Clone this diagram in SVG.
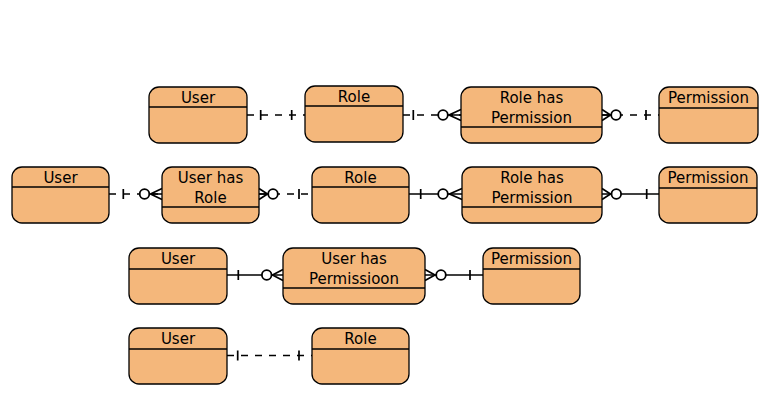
<svg xmlns="http://www.w3.org/2000/svg" width="771" height="417" viewBox="0 0 771 417">
<style>
.box{fill:#F4B77B;stroke:#000;stroke-width:1.3}
.hdr{stroke:#000;stroke-width:1.3}
.t{font-family:"DejaVu Sans",sans-serif;font-size:15px;text-anchor:middle;fill:#000}
.ln{stroke:#000;stroke-width:1.4;fill:none}
.dash{stroke-dasharray:7 7}
.mk{stroke:#000;stroke-width:1.7;fill:none}
.circ{fill:#fff;stroke:#000;stroke-width:1.8}
</style>
<rect width="771" height="417" fill="#fff"/>
<g id="connectors">
  <g id="c1">
    <line class="ln dash" x1="247" y1="115" x2="305" y2="115"/>
    <path class="mk" d="M260.7,110V120M291.7,110V120"/>
  </g>
  <g id="c2">
    <line class="ln dash" x1="403" y1="115" x2="461" y2="115"/>
    <path class="mk" d="M413.3,110V120M461,109.5L449,115L461,120.5M449,115H461"/>
    <circle class="circ" cx="443" cy="115" r="4.8"/>
  </g>
  <g id="c3">
    <line class="ln dash" x1="602" y1="115" x2="659" y2="115"/>
    <path class="mk" d="M602,109.5L610.5,115L602,120.5M602,115H610.5M646,110V120"/>
    <circle class="circ" cx="616" cy="115" r="4.8"/>
  </g>
  <g id="c4">
    <line class="ln dash" x1="109" y1="194" x2="162" y2="194"/>
    <path class="mk" d="M123.3,189V199M162,188.5L150.5,194L162,199.5M150.5,194H162"/>
    <circle class="circ" cx="144.5" cy="194" r="4.8"/>
  </g>
  <g id="c5">
    <line class="ln dash" x1="259" y1="194" x2="312" y2="194"/>
    <path class="mk" d="M259,188.5L267.5,194L259,199.5M259,194H267.5M299,189V199"/>
    <circle class="circ" cx="273" cy="194" r="4.8"/>
  </g>
  <g id="c6">
    <line class="ln" x1="409" y1="194" x2="462" y2="194"/>
    <path class="mk" d="M420.7,189V199M462,188.5L449.5,194L462,199.5"/>
    <circle class="circ" cx="443" cy="194" r="4.8"/>
  </g>
  <g id="c7">
    <line class="ln" x1="602" y1="194" x2="659" y2="194"/>
    <path class="mk" d="M602,188.5L610.5,194L602,199.5M646.7,189V199"/>
    <circle class="circ" cx="616.3" cy="194" r="4.8"/>
  </g>
  <g id="c8">
    <line class="ln" x1="227" y1="275" x2="283" y2="275"/>
    <path class="mk" d="M238.3,270V280M283,269.5L272.5,275L283,280.5"/>
    <circle class="circ" cx="266.7" cy="275" r="4.8"/>
  </g>
  <g id="c9">
    <line class="ln" x1="425" y1="275" x2="483" y2="275"/>
    <path class="mk" d="M425,269.5L435,275L425,280.5M470,270V280"/>
    <circle class="circ" cx="441" cy="275" r="4.8"/>
  </g>
  <g id="c10">
    <line class="ln dash" x1="227" y1="355.5" x2="312" y2="355.5"/>
    <path class="mk" d="M237.7,350.5V360.5M299,350.5V360.5"/>
  </g>
</g>
<g id="user1">
  <rect class="box" x="149" y="87" width="98" height="56" rx="10"/>
  <line class="hdr" x1="149" y1="107" x2="247" y2="107"/>
  <text class="t" x="198" y="103">User</text>
</g>
<g id="role1">
  <rect class="box" x="305" y="86" width="98" height="56" rx="10"/>
  <line class="hdr" x1="305" y1="106" x2="403" y2="106"/>
  <text class="t" x="354" y="102">Role</text>
</g>
<g id="rolehaspermission1">
  <rect class="box" x="461" y="87" width="141" height="56" rx="10"/>
  <line class="hdr" x1="461" y1="127" x2="602" y2="127"/>
  <text class="t" x="531.5" y="103">Role has</text>
  <text class="t" x="531.5" y="123">Permission</text>
</g>
<g id="permission1">
  <rect class="box" x="659" y="87" width="99" height="56" rx="10"/>
  <line class="hdr" x1="659" y1="108" x2="758" y2="108"/>
  <text class="t" x="708.5" y="103">Permission</text>
</g>
<g id="user2">
  <rect class="box" x="12" y="167" width="97" height="56" rx="10"/>
  <line class="hdr" x1="12" y1="187" x2="109" y2="187"/>
  <text class="t" x="60.5" y="183">User</text>
</g>
<g id="userhasrole2">
  <rect class="box" x="162" y="167" width="97" height="56" rx="10"/>
  <line class="hdr" x1="162" y1="207" x2="259" y2="207"/>
  <text class="t" x="210.5" y="183">User has</text>
  <text class="t" x="210.5" y="203">Role</text>
</g>
<g id="role2">
  <rect class="box" x="312" y="167" width="97" height="56" rx="10"/>
  <line class="hdr" x1="312" y1="187" x2="409" y2="187"/>
  <text class="t" x="360.5" y="183">Role</text>
</g>
<g id="rolehaspermission2">
  <rect class="box" x="462" y="167" width="140" height="56" rx="10"/>
  <line class="hdr" x1="462" y1="207" x2="602" y2="207"/>
  <text class="t" x="532" y="183">Role has</text>
  <text class="t" x="532" y="203">Permission</text>
</g>
<g id="permission2">
  <rect class="box" x="659" y="167" width="98" height="56" rx="10"/>
  <line class="hdr" x1="659" y1="188" x2="757" y2="188"/>
  <text class="t" x="708" y="183">Permission</text>
</g>
<g id="user3">
  <rect class="box" x="129" y="248" width="98" height="56" rx="10"/>
  <line class="hdr" x1="129" y1="269" x2="227" y2="269"/>
  <text class="t" x="178" y="264">User</text>
</g>
<g id="userhaspermission3">
  <rect class="box" x="283" y="248" width="142" height="56" rx="10"/>
  <line class="hdr" x1="283" y1="288" x2="425" y2="288"/>
  <text class="t" x="354" y="264">User has</text>
  <text class="t" x="354" y="284">Permissioon</text>
</g>
<g id="permission3">
  <rect class="box" x="483" y="248" width="97" height="56" rx="10"/>
  <line class="hdr" x1="483" y1="269" x2="580" y2="269"/>
  <text class="t" x="531.5" y="264">Permission</text>
</g>
<g id="user4">
  <rect class="box" x="129" y="328" width="98" height="56" rx="10"/>
  <line class="hdr" x1="129" y1="349" x2="227" y2="349"/>
  <text class="t" x="178" y="344">User</text>
</g>
<g id="role4">
  <rect class="box" x="312" y="328" width="97" height="56" rx="10"/>
  <line class="hdr" x1="312" y1="349" x2="409" y2="349"/>
  <text class="t" x="360.5" y="344">Role</text>
</g>
</svg>
